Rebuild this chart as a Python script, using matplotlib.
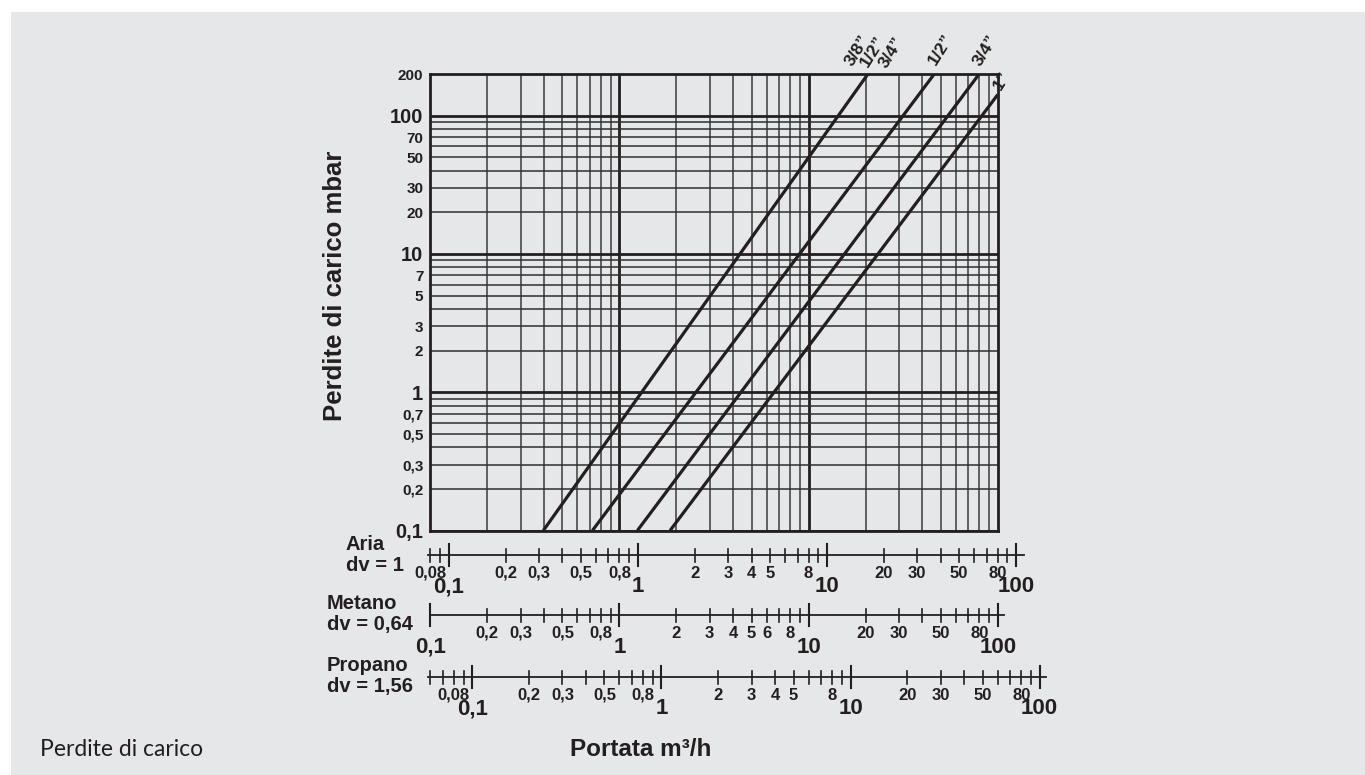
import numpy as np
import matplotlib
matplotlib.use('Agg')
import matplotlib.pyplot as plt
from matplotlib.patches import Rectangle
from matplotlib.ticker import NullFormatter, NullLocator

plt.rcParams['font.family'] = ['Liberation Sans', 'DejaVu Sans']

# ---- data ----
# pressure drop lines (metano flow m3/h, mbar) : start and end point of each line
pipe_flow = [[0.396, 20.6], [0.72, 46.2], [1.245, 79.8], [1.853, 100.0]]
pipe_dp = [[0.1, 200], [0.1, 200], [0.1, 200], [0.1, 141.8]]
pipe_names = ['3/8\u201d', '1/2\u201d', '3/4\u201d', '1/2\u201d', '3/4\u201d', '1\u201d']

y_ticks = [0.1, 0.2, 0.3, 0.5, 0.7, 1, 2, 3, 5, 7, 10, 20, 30, 50, 70, 100, 200]
y_labels = ['0,1', '0,2', '0,3', '0,5', '0,7', '1', '2', '3', '5', '7', '10', '20', '30', '50', '70', '100', '200']
y_big = [0.1, 1, 10, 100]

# gas scales under the chart
gas_names = ['Aria\ndv = 1', 'Metano\ndv = 0,64', 'Propano\ndv = 1,56']
gas_factor = [0.8, 1.0, 0.6]          # gas flow / metano flow on the same vertical
aria_ticks = [0.08, 0.09] + [m * d for d in [0.1, 1, 10] for m in range(1, 10)] + [100]
metano_ticks = [m * d for d in [0.1, 1, 10] for m in range(1, 10)] + [100]
propano_ticks = [0.06, 0.07, 0.08, 0.09] + [m * d for d in [0.1, 1, 10] for m in range(1, 10)] + [100]
aria_labels = {0.08: '0,08', 0.2: '0,2', 0.3: '0,3', 0.5: '0,5', 0.8: '0,8', 2: '2', 3: '3', 4: '4',
               5: '5', 8: '8', 20: '20', 30: '30', 50: '50', 80: '80'}
metano_labels = {0.2: '0,2', 0.3: '0,3', 0.5: '0,5', 0.8: '0,8', 2: '2', 3: '3', 4: '4', 5: '5',
                 6: '6', 8: '8', 20: '20', 30: '30', 50: '50', 80: '80'}
propano_labels = {0.08: '0,08', 0.2: '0,2', 0.3: '0,3', 0.5: '0,5', 0.8: '0,8', 2: '2', 3: '3',
                  4: '4', 5: '5', 8: '8', 20: '20', 30: '30', 50: '50', 80: '80'}
big_labels = {0.1: '0,1', 1: '1', 10: '10', 100: '100'}

W, H = 1365, 775
INK = '#231f20'
fig = plt.figure(figsize=(W / 100, H / 100), dpi=100)
fig.patch.set_facecolor('white')
fig.patches.append(Rectangle((11 / W, 0), 1, 1 - 12 / H, transform=fig.transFigure,
                             facecolor='#e6e7e8', edgecolor='none', zorder=-10))


def px_axes(x0, y0, x1, y1):
    return fig.add_axes([x0 / W, 1 - y1 / H, (x1 - x0) / W, (y1 - y0) / H])


# ---- main log-log grid ----
gx0, gx1, gy0, gy1 = 430.3, 997.7, 74, 530.5
ax = px_axes(gx0, gy0, gx1, gy1)
ax.set_facecolor('none')
ax.set_xscale('log')
ax.set_yscale('log')
ax.set_xlim(0.1, 100)
ax.set_ylim(0.1, 200)

grid_x = [m * d for d in [0.1, 1, 10] for m in range(2, 10)]
grid_y = [m * d for d in [0.1, 1, 10, 100] for m in range(1, 10) if m * d < 200]
for v in grid_x:
    ax.axvline(v, color='#3c3c3c', lw=1.1, zorder=1)
for v in [1, 10]:
    ax.axvline(v, color=INK, lw=2.0, zorder=1)
for v in grid_y:
    big = v in y_big
    ax.axhline(v, color=INK if big else '#2e2e2e', lw=2.0 if big else 1.1, zorder=1)

for q, dp in zip(pipe_flow, pipe_dp):
    ax.plot(q, dp, color=INK, lw=2.3, solid_capstyle='butt', zorder=3)

for s in ax.spines.values():
    s.set_linewidth(2.0)
    s.set_color(INK)
ax.xaxis.set_major_locator(NullLocator())
ax.xaxis.set_minor_locator(NullLocator())
ax.xaxis.set_major_formatter(NullFormatter())
ax.yaxis.set_minor_locator(NullLocator())
ax.set_yticks(y_ticks)
ax.set_yticklabels(y_labels)
ax.tick_params(axis='y', length=0, pad=5, colors=INK)
for t, v in zip(ax.get_yticklabels(), y_ticks):
    t.set_fontweight('bold')
    t.set_fontsize(14.5 if v in y_big else 11)

# labels of the lines, above the frame
label_pos = [(853, 67), (868, 68), (887, 69), (936, 66), (981, 67), (1001, 91)]
for name, (px, py) in zip(pipe_names, label_pos):
    fig.text(px / W, 1 - py / H, name, rotation=58, rotation_mode='anchor', ha='left',
             va='baseline', fontsize=12.5, fontweight='bold', color=INK)

# ---- gas scales ----
scale_rows = [
    (gas_factor[0], aria_ticks, aria_labels, 428, 1024, 555.0),
    (gas_factor[1], metano_ticks, metano_labels, 430, 1004, 615.3),
    (gas_factor[2], propano_ticks, propano_labels, 428, 1046, 677.0),
]
pxdec = (gx1 - gx0) / 3.0
for f, ticks, labels, a, b, base in scale_rows:
    sa = px_axes(a, base - 30, b, base + 45)
    sa.set_xscale('log')
    lo = f * 10 ** ((a - gx0) / pxdec - 1)
    hi = f * 10 ** ((b - gx0) / pxdec - 1)
    sa.set_xlim(lo, hi)
    sa.set_ylim(45, -30)
    sa.axis('off')
    sa.plot([lo, hi], [0, 0], color=INK, lw=1.3, clip_on=False)
    for v in ticks:
        h = 11 if v in big_labels else 6.5
        sa.plot([v, v], [-h, h], color=INK, lw=1.5 if v in big_labels else 1.2, clip_on=False)
    for v, s in labels.items():
        sa.text(v, 18, s, ha='center', va='center', fontsize=12, fontweight='bold', color=INK)
    for v, s in big_labels.items():
        sa.text(v, 32, s, ha='center', va='center', fontsize=16, fontweight='bold', color=INK)

gas_text_pos = [(346, 555), (327, 614), (327, 676)]
for s, (px, py) in zip(gas_names, gas_text_pos):
    fig.text(px / W, 1 - py / H, s, ha='left', va='center', fontsize=14.5, fontweight='bold',
             color=INK, linespacing=1.15)

# ---- titles ----
fig.text(335 / W, 1 - 286 / H, 'Perdite di carico mbar', rotation=90, ha='center', va='center',
         fontsize=18.5, fontweight='bold', color=INK)
fig.text(641 / W, 1 - 749 / H, 'Portata m\u00b3/h', ha='center', va='center',
         fontsize=17.5, fontweight='bold', color=INK)
fig.text(40 / W, 1 - 750 / H, 'Perdite di carico', ha='left', va='center',
         fontsize=16.5, color=INK, family=['Lato', 'DejaVu Sans'])

fig.savefig('out.png', dpi=100, facecolor=fig.get_facecolor())
